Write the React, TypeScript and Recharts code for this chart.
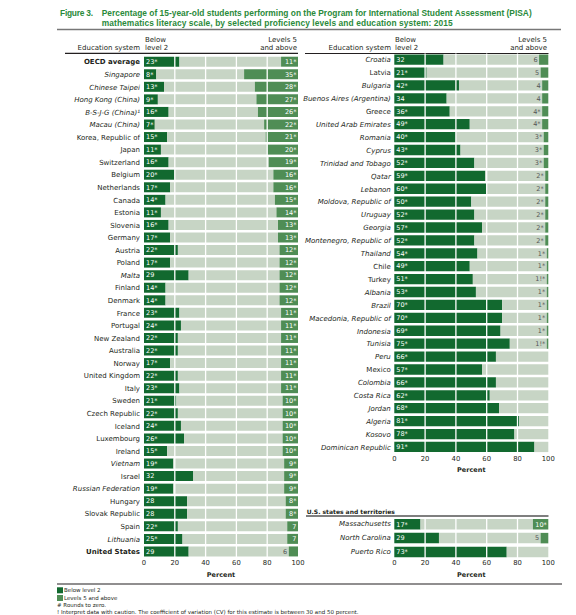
import React from "react";
import { BarChart, Bar, XAxis, YAxis, ReferenceLine, LabelList } from "recharts";

const DARK = "#12692f";
const MED = "#4f8d55";
const LIGHT = "#c7d5c5";
const TEXT = "#231f20";
const GREEN_TITLE = "#2a8a3a";
const FONT = "DejaVu Sans";

// ---------- Left panel ----------
const leftNames = [
  "OECD average", "Singapore", "Chinese Taipei", "Hong Kong (China)", "B-S-J-G (China)\u00b9",
  "Macau (China)", "Korea, Republic of", "Japan", "Switzerland", "Belgium",
  "Netherlands", "Canada", "Estonia", "Slovenia", "Germany",
  "Austria", "Poland", "Malta", "Finland", "Denmark",
  "France", "Portugal", "New Zealand", "Australia", "Norway",
  "United Kingdom", "Italy", "Sweden", "Czech Republic", "Iceland",
  "Luxembourg", "Ireland", "Vietnam", "Israel", "Russian Federation",
  "Hungary", "Slovak Republic", "Spain", "Lithuania", "United States",
];
const leftBelow = [
  23, 8, 13, 9, 16, 7, 15, 11, 16, 20,
  17, 14, 11, 16, 17, 22, 17, 29, 14, 14,
  23, 24, 22, 22, 17, 22, 23, 21, 22, 24,
  26, 15, 19, 32, 19, 28, 28, 22, 25, 29,
];
const leftBelowMarks = [
  "*", "*", "*", "*", "*", "*", "*", "*", "*", "*",
  "*", "*", "*", "*", "*", "*", "*", "", "*", "*",
  "*", "*", "*", "*", "*", "*", "*", "*", "*", "*",
  "*", "*", "*", "", "*", "", "", "*", "*", "",
];
const leftTop: (number | null)[] = [
  11, 35, 28, 27, 26, 22, 21, 20, 19, 16,
  16, 15, 14, 13, 13, 12, 12, 12, 12, 12,
  11, 11, 11, 11, 11, 11, 11, 10, 10, 10,
  10, 10, 9, 9, 9, 8, 8, 7, 7, 6,
];
const leftTopMarks = [
  "*", "*", "*", "*", "*", "*", "*", "*", "*", "*",
  "*", "*", "*", "*", "*", "*", "*", "*", "*", "*",
  "*", "*", "*", "*", "*", "*", "*", "*", "*", "*",
  "*", "*", "*", "*", "*", "*", "*", "", "", "",
];
const leftItalic = new Set([
  "Singapore", "Chinese Taipei", "Hong Kong (China)", "B-S-J-G (China)\u00b9", "Macau (China)",
  "Malta", "Vietnam", "Russian Federation", "Lithuania",
]);
const leftBold = new Set(["OECD average", "United States"]);

// ---------- Right panel ----------
const rightNames = [
  "Croatia", "Latvia", "Bulgaria", "Buenos Aires (Argentina)", "Greece",
  "United Arab Emirates", "Romania", "Cyprus", "Trinidad and Tobago", "Qatar",
  "Lebanon", "Moldova, Republic of", "Uruguay", "Georgia", "Montenegro, Republic of",
  "Thailand", "Chile", "Turkey", "Albania", "Brazil",
  "Macedonia, Republic of", "Indonesia", "Tunisia", "Peru", "Mexico",
  "Colombia", "Costa Rica", "Jordan", "Algeria", "Kosovo",
  "Dominican Republic",
];
const rightBelow = [
  32, 21, 42, 34, 36, 49, 40, 43, 52, 59,
  60, 50, 52, 57, 52, 54, 49, 51, 53, 70,
  70, 69, 75, 66, 57, 66, 62, 68, 81, 78,
  91,
];
const rightBelowMarks = [
  "", "*", "*", "", "*", "*", "*", "*", "*", "*",
  "*", "*", "*", "*", "*", "*", "*", "*", "*", "*",
  "*", "*", "*", "*", "*", "*", "*", "*", "*", "*",
  "*",
];
const rightTop: (number | null)[] = [
  6, 5, 4, 4, 4, 4, 3, 3, 3, 2,
  2, 2, 2, 2, 2, 1, 1, 1, 1, 1,
  1, 1, 1, 0, 0, 0, 0, 0, null, null,
  null,
];
const rightTopMarks = [
  "", "", "", "", "*", "*", "*", "*", "*", "*",
  "*", "*", "*", "*", "*", "*", "*", "!*", "*", "*",
  "*", "*", "!*", "*", "!*", "!*", "!*", "!*", "", "",
  "",
];
const rightUpright = new Set(["Latvia", "Greece", "Chile", "Turkey", "Mexico"]);
const rightItalic = new Set(rightNames.filter((n) => !rightUpright.has(n)));

// ---------- U.S. states panel ----------
const stateNames = ["Massachusetts", "North Carolina", "Puerto Rico"];
const stateBelow = [17, 29, 73];
const stateBelowMarks = ["*", "", "*"];
const stateTop: (number | null)[] = [10, 5, null];
const stateTopMarks = ["*", "", ""];
const stateItalic = new Set(stateNames);

const xTicks = [0, 20, 40, 60, 80, 100];
const gridValues = [20, 40, 60, 80];

type Row = {
  name: string;
  below: number;
  rest: number;
  top: number;
  belowText: string;
  topText: string;
  topVal: number | null;
};

function buildRows(
  names: string[],
  below: number[],
  belowMarks: string[],
  top: (number | null)[],
  topMarks: string[]
): Row[] {
  return names.map((name, i) => {
    const t = top[i];
    const tv = t === null ? 0 : t;
    return {
      name,
      below: below[i],
      rest: 100 - below[i] - tv,
      top: tv,
      belowText: `${below[i]}${belowMarks[i]}`,
      topText: t === null ? "\u2021" : `${t === 0 ? "#" : t}${topMarks[i]}`,
      topVal: t,
    };
  });
}

type PanelProps = {
  rows: Row[];
  width: number;
  height: number;
  margin: { top: number; right: number; bottom: number; left: number };
  yWidth: number;
  tickMargin: number;
  barSize: number;
  italic: Set<string>;
  bold: Set<string>;
};

function Panel({ rows, width, height, margin, yWidth, tickMargin, barSize, italic, bold }: PanelProps) {
  const YTick = (props: any) => {
    const { x, y, payload } = props;
    const name = payload.value as string;
    return (
      <text
        x={x}
        y={y}
        dy="0.35em"
        textAnchor="end"
        fontSize={7}
        fontFamily={FONT}
        fontStyle={italic.has(name) ? "italic" : "normal"}
        fontWeight={bold.has(name) ? "bold" : "normal"}
        fill={TEXT}
      >
        {name}
      </text>
    );
  };

  const BelowLabel = (p: any) => (
    <text
      x={Number(p.x) + 2}
      y={Number(p.y) + Number(p.height) / 2}
      dy="0.35em"
      fontSize={6.5}
      fontFamily={FONT}
      fill="#ffffff"
    >
      {p.value}
    </text>
  );

  const TopLabel = (p: any) => {
    const row = rows[p.index];
    const v = row ? row.topVal : null;
    const x0 = Number(p.x);
    const w = Number(p.width) || 0;
    let lx = x0 - 1.5;
    let fill = "#555555";
    if (v === null) {
      lx = x0 + w - 4.5;
    } else if (v >= 7) {
      lx = x0 + w - 1.5;
      fill = "#ffffff";
    }
    return (
      <text
        x={lx}
        y={Number(p.y) + Number(p.height) / 2}
        dy="0.35em"
        textAnchor="end"
        fontSize={6.5}
        fontFamily={FONT}
        fill={fill}
      >
        {p.value}
      </text>
    );
  };

  return (
    <BarChart width={width} height={height} data={rows} layout="vertical" margin={margin}>
      <XAxis
        type="number"
        domain={[0, 100]}
        ticks={xTicks}
        interval={0}
        axisLine={false}
        tickLine={false}
        tickSize={0}
        tickMargin={2}
        height={14}
        tick={{ fontSize: 6.8, fill: TEXT, fontFamily: FONT }}
      />
      <YAxis
        type="category"
        dataKey="name"
        width={yWidth}
        interval={0}
        axisLine={false}
        tickLine={false}
        tickSize={0}
        tickMargin={tickMargin}
        tick={YTick}
      />
      <Bar dataKey="below" stackId="a" fill={DARK} barSize={barSize} isAnimationActive={false}>
        <LabelList dataKey="belowText" content={BelowLabel} />
      </Bar>
      <Bar dataKey="rest" stackId="a" fill={LIGHT} barSize={barSize} isAnimationActive={false} />
      <Bar dataKey="top" stackId="a" fill={MED} barSize={barSize} isAnimationActive={false}>
        <LabelList dataKey="topText" content={TopLabel} />
      </Bar>
      {gridValues.map((g) => (
        <ReferenceLine key={g} x={g} stroke="#ffffff" strokeWidth={1.3} />
      ))}
    </BarChart>
  );
}

const leftRows = buildRows(leftNames, leftBelow, leftBelowMarks, leftTop, leftTopMarks);
const rightRows = buildRows(rightNames, rightBelow, rightBelowMarks, rightTop, rightTopMarks);
const stateRows = buildRows(stateNames, stateBelow, stateBelowMarks, stateTop, stateTopMarks);

function Overlay() {
  const t = { fontFamily: FONT, fill: TEXT };
  return (
    <svg width={576} height={615} style={{ position: "absolute", left: 0, top: 0 }}>
      <g fontFamily="Liberation Sans" fontWeight="bold" fontSize={8.4} fill={GREEN_TITLE}>
        <text x={60} y={15.5} textLength={33}>Figure 3.</text>
        <text x={101.7} y={15.5} textLength={430}>
          Percentage of 15-year-old students performing on the Program for International Student Assessment (PISA)
        </text>
        <text x={101.7} y={26} textLength={351}>
          mathematics literacy scale, by selected proficiency levels and education system: 2015
        </text>
      </g>
      <line x1={57} x2={561} y1={29.5} y2={29.5} stroke="#777777" strokeWidth={1.5} />

      {/* left header */}
      <g fontSize={7} {...t}>
        <text x={145} y={41.7}>Below</text>
        <text x={145} y={50}>level 2</text>
        <text x={140} y={50} textAnchor="end">Education system</text>
        <text x={297} y={41.7} textAnchor="end">Levels 5</text>
        <text x={297} y={50} textAnchor="end">and above</text>
        {/* right header */}
        <text x={395} y={41.7}>Below</text>
        <text x={395} y={50}>level 2</text>
        <text x={391} y={50} textAnchor="end">Education system</text>
        <text x={547} y={41.7} textAnchor="end">Levels 5</text>
        <text x={547} y={50} textAnchor="end">and above</text>
      </g>
      <line x1={65} x2={298} y1={53.3} y2={53.3} stroke={TEXT} strokeWidth={1.2} />
      <line x1={305} x2={548.5} y1={53.5} y2={53.5} stroke={TEXT} strokeWidth={1.2} />

      {/* axis titles */}
      <g fontSize={6.5} fontWeight="bold" textAnchor="middle" {...t}>
        <text x={221} y={577}>Percent</text>
        <text x={471.3} y={472.3}>Percent</text>
        <text x={471.3} y={577.3}>Percent</text>
      </g>

      {/* U.S. states header */}
      <text x={306.7} y={514} fontSize={6} fontWeight="bold" {...t}>
        U.S. states and territories
      </text>
      <line x1={306} x2={548.5} y1={516} y2={516} stroke="#555555" strokeWidth={1.5} />

      {/* bottom rule and notes */}
      <line x1={57} x2={562} y1={584} y2={584} stroke={TEXT} strokeWidth={1.2} />
      <rect x={57} y={587.3} width={6} height={6} fill={DARK} />
      <rect x={57} y={595} width={6} height={6} fill={MED} />
      <g fontSize={5.5} {...t}>
        <text x={64} y={592.3}>Below level 2</text>
        <text x={64} y={600}>Levels 5 and above</text>
        <text x={57} y={606.6}># Rounds to zero.</text>
        <text x={57} y={613.8}>
          ! Interpret data with caution. The coefficient of variation (CV) for this estimate is between 30 and 50 percent.
        </text>
      </g>
    </svg>
  );
}

export default function App() {
  return (
    <div style={{ position: "absolute", left: 0, top: 0, width: 576, height: 615, background: "#ffffff" }}>
      <Overlay />
      <div style={{ position: "absolute", left: 0, top: 0 }}>
        <Panel
          rows={leftRows}
          width={312}
          height={580}
          margin={{ top: 55.7, right: 14, bottom: 8, left: 0 }}
          yWidth={144}
          tickMargin={4}
          barSize={10}
          italic={leftItalic}
          bold={leftBold}
        />
      </div>
      <div style={{ position: "absolute", left: 300, top: 0 }}>
        <Panel
          rows={rightRows}
          width={266}
          height={475}
          margin={{ top: 53.5, right: 17.7, bottom: 7.3, left: 0 }}
          yWidth={94.3}
          tickMargin={3.5}
          barSize={10.3}
          italic={rightItalic}
          bold={new Set<string>()}
        />
      </div>
      <div style={{ position: "absolute", left: 300, top: 500 }}>
        <Panel
          rows={stateRows}
          width={266}
          height={80}
          margin={{ top: 17, right: 17.7, bottom: 7.4, left: 0 }}
          yWidth={94.3}
          tickMargin={3.5}
          barSize={10.5}
          italic={stateItalic}
          bold={new Set<string>()}
        />
      </div>
    </div>
  );
}
